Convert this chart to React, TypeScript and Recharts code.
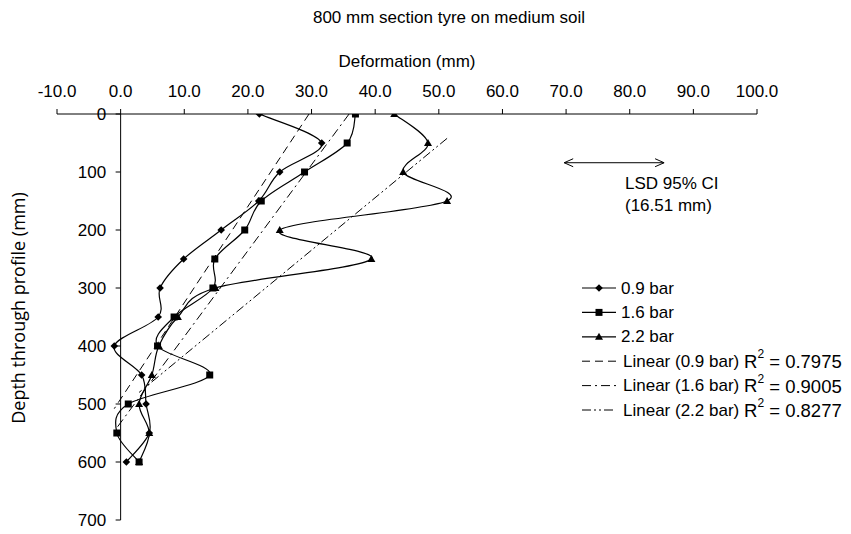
import React from 'react'
import {
  LineChart,
  Line,
  XAxis,
  YAxis,
  ReferenceLine,
  Legend,
  Customized,
} from 'recharts'

// Depth of each measurement (mm)
const depths = [0, 50, 100, 150, 200, 250, 300, 350, 400, 450, 500, 550, 600]

// Deformation (mm) per tyre inflation pressure
const bar09 = [21.8, 31.6, 25.0, 21.7, 15.8, 9.9, 6.2, 5.9, -1.0, 3.3, 4.0, 4.5, 0.9]
const bar16 = [36.9, 35.6, 28.9, 22.1, 19.5, 14.8, 14.5, 8.4, 5.8, 14.0, 1.2, -0.6, 2.9]
const bar22 = [43.0, 48.3, 44.4, 51.3, 25.0, 39.4, 14.9, 9.0, 6.0, 4.9, 2.9, 4.5, 2.9]

// Linear trend lines, end points (deformation, depth)
const trend09Def = [29.6, -1.0]
const trend09Depth = [0, 508]
const trend16Def = [35.9, -0.6]
const trend16Depth = [0, 541]
const trend22Def = [51.3, 2.9]
const trend22Depth = [42, 480]

// LSD 95% CI marker
const lsdDef = [69.7, 85.4]
const lsdDepth = [84, 84]

const defTicks = [-10, 0, 10, 20, 30, 40, 50, 60, 70, 80, 90, 100]
const depthTicks = [0, 100, 200, 300, 400, 500, 600, 700]

const seriesNames = ['0.9 bar', '1.6 bar', '2.2 bar']
const trendNames = ['Linear (0.9 bar)', 'Linear (1.6 bar)', 'Linear (2.2 bar)']
const rSquared = ['0.7975', '0.9005', '0.8277']

const toRows = (defs: number[], deps: number[]) =>
  defs.map((d, i) => ({ def: d, depth: deps[i] }))

const FONT = '"Liberation Sans", Arial, sans-serif'
const W = 851
const H = 534
const Y_AXIS_W = 57
const MARGIN = { top: 84, right: 94, bottom: 14, left: 0 }
const PLOT_W = W - Y_AXIS_W - MARGIN.right
// vertical axis crosses at deformation = 0
const AXIS_X = Y_AXIS_W + (PLOT_W * 10) / 110

const DASH09 = '8 5'
const DASH16 = '9 4 2 4'
const DASH22 = '9 3 2 3 2 3'

// Excel-like smoothed line (Catmull-Rom as bezier)
const excelSmooth = (context: any) => {
  let pts: number[][] = []
  return {
    areaStart() {},
    areaEnd() {},
    lineStart() {
      pts = []
    },
    lineEnd() {
      if (!pts.length) return
      context.moveTo(pts[0][0], pts[0][1])
      for (let i = 0; i < pts.length - 1; i++) {
        const p0 = pts[i - 1] || pts[i]
        const p1 = pts[i]
        const p2 = pts[i + 1]
        const p3 = pts[i + 2] || p2
        context.bezierCurveTo(
          p1[0] + (p2[0] - p0[0]) / 6,
          p1[1] + (p2[1] - p0[1]) / 6,
          p2[0] - (p3[0] - p1[0]) / 6,
          p2[1] - (p3[1] - p1[1]) / 6,
          p2[0],
          p2[1]
        )
      }
    },
    point(x: number, y: number) {
      pts.push([+x, +y])
    },
  }
}

// Marker shapes
function markerPath(kind: string, cx: number, cy: number) {
  if (kind === 'diamond')
    return `M${cx},${cy - 3.8}L${cx + 3.8},${cy}L${cx},${cy + 3.8}L${cx - 3.8},${cy}Z`
  if (kind === 'square')
    return `M${cx - 3.5},${cy - 3.5}h7v7h-7Z`
  return `M${cx},${cy - 4}L${cx + 4},${cy + 3}L${cx - 4},${cy + 3}Z`
}

const makeDot = (kind: string) => (props: any) => {
  const { cx, cy, index } = props
  if (cx == null || cy == null) return <g key={`${kind}-${index}`} />
  return <path key={`${kind}-${index}`} d={markerPath(kind, cx, cy)} fill="#000" />
}

const ArrowHead = (props: any) => {
  const { cx, cy, index } = props
  const s = index === 0 ? 1 : -1
  return (
    <path
      key={`arrow-${index}`}
      d={`M${cx + s * 9},${cy - 4}L${cx},${cy}L${cx + s * 9},${cy + 4}`}
      fill="none"
      stroke="#000"
      strokeWidth={1}
    />
  )
}

// Y axis ticks drawn on the x = 0 axis
function DepthTick(props: any) {
  const { y, payload } = props
  return (
    <g>
      <line x1={AXIS_X - 5} x2={AXIS_X} y1={y} y2={y} stroke="#000" />
      <text
        x={AXIS_X - 14.5}
        y={y}
        textAnchor="end"
        dominantBaseline="central"
        fontSize={17}
        fill="#000"
      >
        {payload.value}
      </text>
    </g>
  )
}

// Titles and annotations
function Annotations() {
  return (
    <g fontSize={17} fill="#000">
      <text x={449} y={23} textAnchor="middle">
        800 mm section tyre on medium soil
      </text>
      <text x={407} y={67} textAnchor="middle">
        Deformation (mm)
      </text>
      <text
        x={18}
        y={308}
        textAnchor="middle"
        dominantBaseline="central"
        transform="rotate(-90 18 308)"
        fontFamily='"Open Sans", sans-serif'
        fontSize={18}
      >
        Depth through profile (mm)
      </text>
      <text x={625} y={189}>
        LSD 95% CI
      </text>
      <text x={625} y={211}>
        (16.51 mm)
      </text>
    </g>
  )
}

function LegendBox() {
  const kinds = ['diamond', 'square', 'triangle']
  const dashes = [DASH09, DASH16, DASH22]
  const rowY = (i: number) => 18 + i * 24.4
  return (
    <svg width={276} height={160} style={{ fontFamily: FONT, display: 'block' }}>
      {seriesNames.map((name, i) => (
        <g key={name}>
          <line x1={7} x2={41} y1={rowY(i)} y2={rowY(i)} stroke="#000" strokeWidth={1.2} />
          <path d={markerPath(kinds[i], 24, rowY(i))} fill="#000" />
          <text x={46} y={rowY(i)} dominantBaseline="central" fontSize={17}>
            {name}
          </text>
        </g>
      ))}
      {trendNames.map((name, i) => {
        const y = rowY(i + 3)
        return (
          <g key={name}>
            <line x1={7} x2={41} y1={y} y2={y} stroke="#000" strokeDasharray={dashes[i]} />
            <text x={48} y={y} dominantBaseline="central" fontSize={17}>
              {name}
            </text>
            <text x={169} y={y} dominantBaseline="central" fontSize={18.5}>
              R
              <tspan dy={-7} fontSize={12}>
                2
              </tspan>
              <tspan dy={7}> = {rSquared[i]}</tspan>
            </text>
          </g>
        )
      })}
    </svg>
  )
}

export default function App() {
  const rows09 = toRows(bar09, depths)
  const rows16 = toRows(bar16, depths)
  const rows22 = toRows(bar22, depths)
  const t09 = toRows(trend09Def, trend09Depth)
  const t16 = toRows(trend16Def, trend16Depth)
  const t22 = toRows(trend22Def, trend22Depth)
  const lsd = toRows(lsdDef, lsdDepth)

  return (
    <div style={{ position: 'absolute', left: 0, top: 0, width: W, height: H, background: '#fff', fontFamily: FONT }}>
      <LineChart
        width={W}
        height={H}
        layout="vertical"
        margin={MARGIN}
        style={{ fontFamily: FONT }}
      >
        <XAxis
          type="number"
          orientation="top"
          domain={[-10, 100]}
          ticks={defTicks}
          tickFormatter={(v: number) => v.toFixed(1)}
          height={30}
          stroke="#000"
          tickSize={5}
          tickMargin={12}
          tick={{ fill: '#000', fontSize: 17 }}
          allowDataOverflow
        />
        <YAxis
          type="number"
          dataKey="depth"
          domain={[0, 700]}
          ticks={depthTicks}
          interval={0}
          width={Y_AXIS_W}
          axisLine={false}
          tickLine={false}
          tick={DepthTick}
          allowDataOverflow
        />
        <ReferenceLine x={0} stroke="#000" />

        <Line
          data={rows09}
          dataKey="def"
          name={seriesNames[0]}
          type={excelSmooth as any}
          stroke="#000"
          strokeWidth={1.2}
          dot={makeDot('diamond')}
          activeDot={false}
          isAnimationActive={false}
        />
        <Line
          data={rows16}
          dataKey="def"
          name={seriesNames[1]}
          type={excelSmooth as any}
          stroke="#000"
          strokeWidth={1.2}
          dot={makeDot('square')}
          activeDot={false}
          isAnimationActive={false}
        />
        <Line
          data={rows22}
          dataKey="def"
          name={seriesNames[2]}
          type={excelSmooth as any}
          stroke="#000"
          strokeWidth={1.2}
          dot={makeDot('triangle')}
          activeDot={false}
          isAnimationActive={false}
        />

        <Line data={t09} dataKey="def" name={trendNames[0]} type="linear" stroke="#000" strokeWidth={1} strokeDasharray={DASH09} dot={false} activeDot={false} isAnimationActive={false} />
        <Line data={t16} dataKey="def" name={trendNames[1]} type="linear" stroke="#000" strokeWidth={1} strokeDasharray={DASH16} dot={false} activeDot={false} isAnimationActive={false} />
        <Line data={t22} dataKey="def" name={trendNames[2]} type="linear" stroke="#000" strokeWidth={1} strokeDasharray={DASH22} dot={false} activeDot={false} isAnimationActive={false} />

        <Line data={lsd} dataKey="def" name="LSD" type="linear" stroke="#000" strokeWidth={1} dot={ArrowHead} activeDot={false} legendType="none" isAnimationActive={false} />

        <Legend
          layout="horizontal"
          verticalAlign="middle"
          align="center"
          content={() => <LegendBox />}
          wrapperStyle={{ position: 'absolute', left: 575, top: 270, width: 276, height: 160 }}
        />
        <Customized component={Annotations} />
      </LineChart>
    </div>
  )
}
